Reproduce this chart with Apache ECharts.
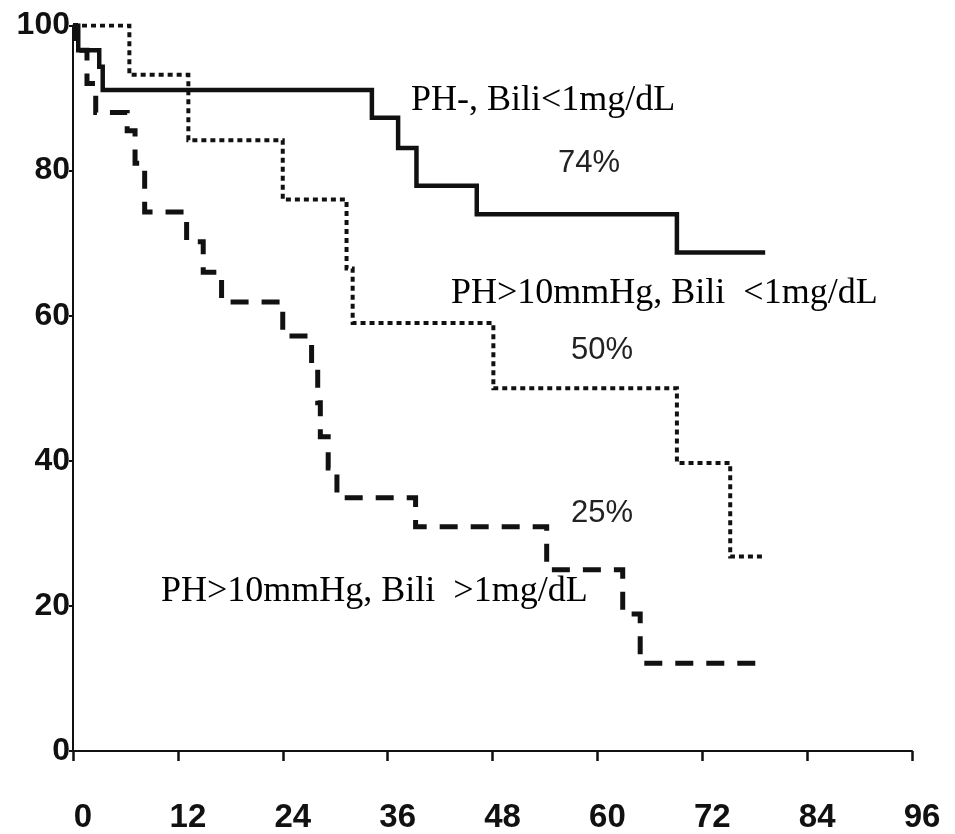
<!DOCTYPE html>
<html>
<head>
<meta charset="utf-8">
<script src="https://cdn.jsdelivr.net/npm/echarts@6/dist/echarts.min.js"></script>
<style>
  html, body { margin: 0; padding: 0; background: #fff; }
  #chart { width: 955px; height: 834px; }
</style>
</head>
<body>
<div id="chart"></div>
<script>
// Kaplan-Meier survival (%) against follow-up time (months)
const xTicks = [0, 12, 24, 36, 48, 60, 72, 84, 96];
const yTicks = [0, 20, 40, 60, 80, 100];

// PH-, Bili<1mg/dL
const grpAMonths = [0, 0.6, 3.0, 3.4, 34.2, 37.2, 39.3, 46.2, 69.1, 79.2];
const grpASurv   = [100, 96.6, 94.3, 91.1, 87.3, 83.1, 77.9, 74.0, 68.7, 68.7];

// PH>10mmHg, Bili <1mg/dL
const grpBMonths = [0, 6.45, 13.2, 24.0, 31.3, 32.0, 48.1, 69.1, 75.2, 79.0];
const grpBSurv   = [100, 93.2, 84.2, 76.0, 66.5, 59.0, 50.0, 39.7, 26.8, 26.8];

// PH>10mmHg, Bili >1mg/dL
const grpCMonths = [0, 0.3, 1.6, 2.6, 6.2, 7.1, 8.2, 13.0, 14.9, 17.0, 24.0, 27.3, 28.0, 28.3, 29.2, 30.2, 39.2, 54.2, 62.9, 64.9, 79.0];
const grpCSurv   = [100, 96.6, 92.0, 88.0, 85.5, 81.0, 74.3, 70.2, 66.0, 61.9, 57.2, 52.8, 48.0, 43.3, 39.0, 34.9, 30.9, 25.0, 18.9, 12.1, 12.1];

const groupLabels = ['PH-, Bili<1mg/dL', 'PH>10mmHg, Bili  <1mg/dL', 'PH>10mmHg, Bili  >1mg/dL'];
const rateLabels = ['74%', '50%', '25%'];

const pairs = (xs, ys) => xs.map((x, i) => [x, ys[i]]);
const ink = '#111';

const chart = echarts.init(document.getElementById('chart'), null, { renderer: 'canvas' });

const curve = (name, data, width, type) => ({
  name,
  type: 'line',
  step: 'end',
  data,
  showSymbol: false,
  symbol: 'none',
  silent: true,
  lineStyle: { color: ink, width, type, cap: 'butt', join: 'miter' }
});

const serifFont = '36px "Liberation Serif", "Times New Roman", serif';
const rateFont = '31px "Liberation Sans", Arial, sans-serif';

chart.setOption({
  animation: false,
  backgroundColor: '#fff',
  grid: { left: 73, right: 43, top: 25.5, bottom: 83, containLabel: false },
  xAxis: {
    type: 'value',
    min: xTicks[0],
    max: xTicks[xTicks.length - 1],
    interval: xTicks[1] - xTicks[0],
    splitLine: { show: false },
    axisLine: { show: true, lineStyle: { color: ink, width: 2 } },
    axisTick: { show: true, length: 10, lineStyle: { color: ink, width: 2.5 } },
    axisLabel: {
      color: ink,
      fontFamily: 'Liberation Sans, Arial, sans-serif',
      fontWeight: 'bold',
      fontSize: 33,
      lineHeight: 33,
      margin: 50,
      padding: [0, 0, 0, 20]
    }
  },
  yAxis: {
    type: 'value',
    min: yTicks[0],
    max: yTicks[yTicks.length - 1],
    interval: yTicks[1] - yTicks[0],
    splitLine: { show: false },
    axisLine: { show: true, lineStyle: { color: ink, width: 2 } },
    axisTick: { show: true, length: 4, lineStyle: { color: ink, width: 2 } },
    axisLabel: {
      color: ink,
      fontFamily: 'Liberation Sans, Arial, sans-serif',
      fontWeight: 'bold',
      fontSize: 32,
      margin: 3
    }
  },
  series: [
    curve(groupLabels[0], pairs(grpAMonths, grpASurv), 4.5, 'solid'),
    curve(groupLabels[1], pairs(grpBMonths, grpBSurv), 4, [5, 4]),
    curve(groupLabels[2], pairs(grpCMonths, grpCSurv), 5, [18, 13])
  ],
  graphic: [
    { type: 'text', x: 411, y: 101, style: { text: groupLabels[0], font: serifFont, fill: '#000', textAlign: 'left', textVerticalAlign: 'middle' } },
    { type: 'text', x: 451, y: 294, style: { text: groupLabels[1], font: serifFont, fill: '#000', textAlign: 'left', textVerticalAlign: 'middle' } },
    { type: 'text', x: 161, y: 592, style: { text: groupLabels[2], font: serifFont, fill: '#000', textAlign: 'left', textVerticalAlign: 'middle' } },
    { type: 'text', x: 589, y: 163, style: { text: rateLabels[0], font: rateFont, fill: '#222', textAlign: 'center', textVerticalAlign: 'middle' } },
    { type: 'text', x: 602, y: 350, style: { text: rateLabels[1], font: rateFont, fill: '#222', textAlign: 'center', textVerticalAlign: 'middle' } },
    { type: 'text', x: 602, y: 513, style: { text: rateLabels[2], font: rateFont, fill: '#222', textAlign: 'center', textVerticalAlign: 'middle' } }
  ]
});
</script>
</body>
</html>
